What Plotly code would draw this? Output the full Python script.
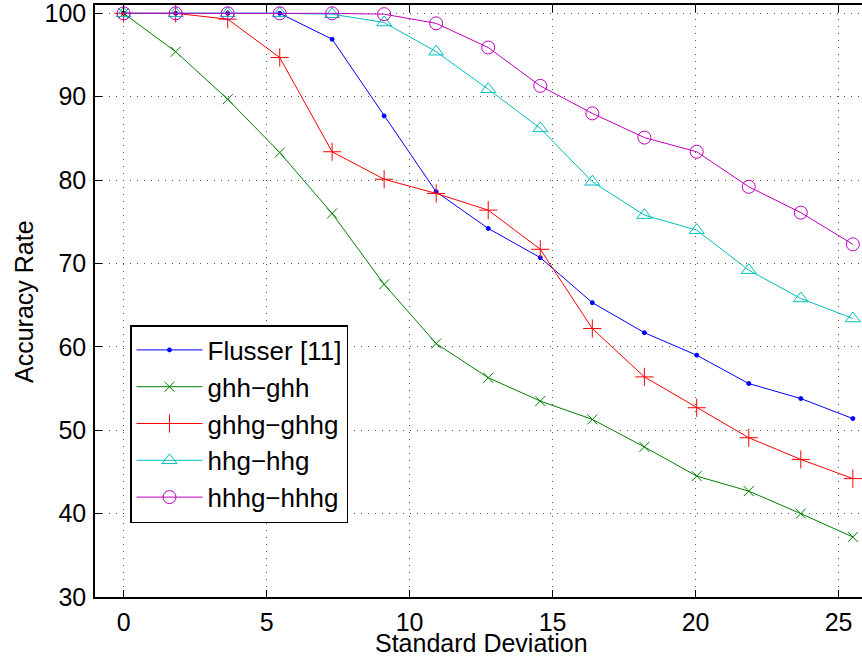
import plotly.graph_objects as go

std_dev = [0, 1.82, 3.64, 5.46, 7.29, 9.11, 10.93, 12.75, 14.57, 16.39, 18.21, 20.04, 21.86, 23.68, 25.5]

flusser = [100, 100, 100, 100, 96.9, 87.7, 78.6, 74.2, 70.7, 65.3, 61.7, 59.0, 55.6, 53.8, 51.4]
ghh_ghh = [100, 95.4, 89.7, 83.3, 76.0, 67.5, 60.4, 56.3, 53.5, 51.3, 48.0, 44.5, 42.7, 40.0, 37.2]
ghhg_ghhg = [100, 100, 99.3, 94.7, 83.4, 80.1, 78.4, 76.4, 71.7, 62.2, 56.4, 52.7, 49.1, 46.5, 44.2]
hhg_hhg = [100, 100, 100, 100, 99.9, 98.9, 95.4, 90.9, 86.2, 79.8, 75.8, 74.0, 69.2, 65.8, 63.4]
hhhg_hhhg = [100, 100, 100, 100, 100, 99.9, 98.8, 95.9, 91.3, 88.0, 85.1, 83.4, 79.2, 76.1, 72.3]

x_ticks = [0, 5, 10, 15, 20, 25]
y_ticks = [30, 40, 50, 60, 70, 80, 90, 100]
x_title = "Standard Deviation"
y_title = "Accuracy Rate"

series = [
    ("Flusser [11]", flusser, "#0000FF", "circle", 4),
    ("ghh\u2212ghh", ghh_ghh, "#008000", "x-thin-open", 10),
    ("ghhg\u2212ghhg", ghhg_ghhg, "#FF0000", "cross-thin-open", 13),
    ("hhg\u2212hhg", hhg_hhg, "#00BFBF", "triangle-up-open", 13),
    ("hhhg\u2212hhhg", hhhg_hhhg, "#BF00BF", "circle-open", 13),
]

fig = go.Figure()
for name, vals, color, sym, size in series:
    fig.add_trace(go.Scatter(
        x=std_dev, y=vals, name=name, mode="lines+markers",
        line=dict(color=color, width=1),
        marker=dict(symbol=sym, size=size, color=color, line=dict(color=color, width=1)),
    ))

font = "Liberation Sans, Arial, Helvetica, sans-serif"
L, R, T, B = 95, 0, 5, 63
W, H = 862, 660
pw, ph = W - L - R, H - T - B

fig.update_layout(
    width=W, height=H,
    margin=dict(l=L, r=R, t=T, b=B, autoexpand=False),
    paper_bgcolor="white", plot_bgcolor="white",
    font=dict(family=font, size=25, color="black"),
    showlegend=True,
    legend=dict(
        x=(130 - L) / pw, y=(H - B - 325) / ph, xanchor="left", yanchor="top",
        bordercolor="black", borderwidth=1.5, bgcolor="white",
        font=dict(size=26, family=font),
        tracegroupgap=0, itemwidth=66,
    ),
    xaxis=dict(
        range=[-1, 25.82], tickvals=x_ticks, ticks="inside", ticklen=7,
        tickcolor="black", showline=True, linecolor="black", linewidth=1.5,
        mirror="ticks", showgrid=True, gridcolor="#555", griddash="1px,6px", gridwidth=1,
        zeroline=False, tickfont=dict(size=25), ticklabelstandoff=2,
        ticklabeloverflow="allow", automargin=False,
    ),
    yaxis=dict(
        range=[30, 101], tickvals=y_ticks, ticks="inside", ticklen=7,
        tickcolor="black", showline=True, linecolor="black", linewidth=1.5,
        mirror=False, showgrid=True, gridcolor="#555", griddash="1px,6px", gridwidth=1,
        zeroline=False, tickfont=dict(size=25), ticklabelstandoff=2,
        ticklabeloverflow="allow", automargin=False,
    ),
    annotations=[
        dict(text=x_title, xref="paper", yref="paper",
             x=(481 - L) / pw, y=(H - B - 643) / ph, xanchor="center", yanchor="middle",
             showarrow=False, font=dict(size=25)),
        dict(text=y_title, xref="paper", yref="paper", textangle=-90,
             x=(24 - L) / pw, y=(H - B - 302) / ph, xanchor="center", yanchor="middle",
             showarrow=False, font=dict(size=25)),
    ],
)

fig.write_html(
    "out.html",
    config={"displayModeBar": False},
    post_script="document.body.style.margin='0';document.body.style.overflow='hidden';",
)
